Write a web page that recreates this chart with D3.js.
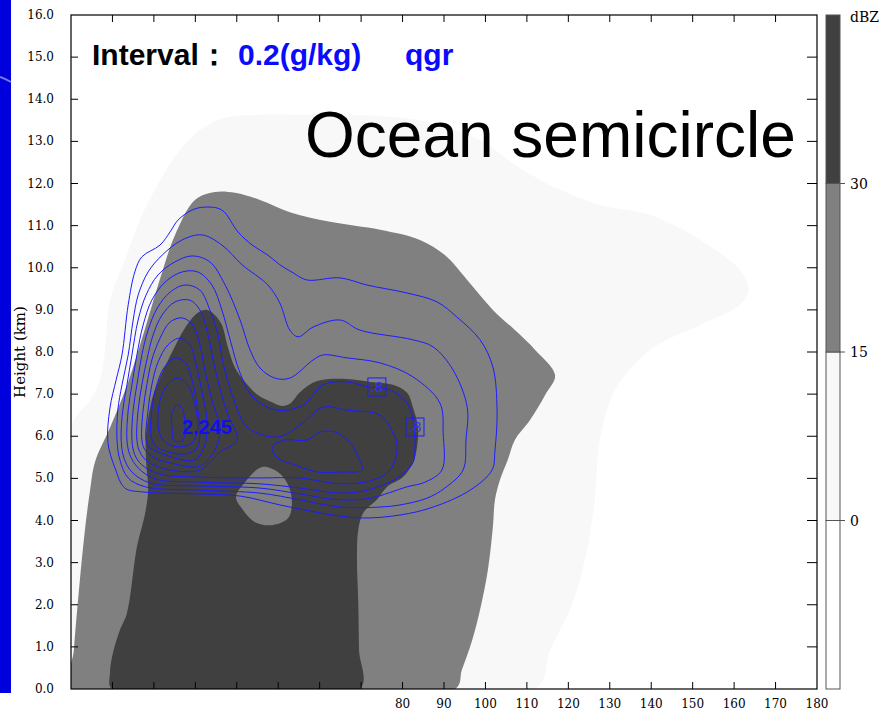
<!DOCTYPE html>
<html>
<head>
<meta charset="utf-8">
<script src="https://cdn.jsdelivr.net/npm/d3@7"></script>
<style>
  body { margin: 0; background: #fff; }
  svg { display: block; }
</style>
</head>
<body>
<div id="chart"></div>
<script>
// ---- data: distance (km) , height (km) ----
const xLabels = [80, 90, 100, 110, 120, 130, 140, 150, 160, 170, 180];
const yLabels = [0,1,2,3,4,5,6,7,8,9,10,11,12,13,14,15,16];
const dbzLevels = [0, 15, 30];

// reflectivity outlines
const refl0 = [[0,0],[0,6.22],[4.6,6.86],[7.0,7.34],[8.2,8.05],[9.4,9.23],[13.0,10.18],[16.6,11.13],[21.5,12.08],
  [26.3,12.80],[31.1,13.27],[37.2,13.56],[45.6,13.63],[55.3,13.63],[64.9,13.63],[79.4,13.56],[89.0,13.39],
  [98.7,13.03],[108.3,12.37],[118.0,11.85],[127.6,11.49],[139.7,11.25],[151.8,10.66],[161.4,9.95],[163.4,9.47],
  [161.4,9.12],[151.8,8.64],[139.7,8.05],[131.3,7.10],[127.6,5.91],[126.4,4.49],[124.0,3.06],[120.4,1.88],
  [115.6,0.93],[112.0,0]];
const refl15 = [[0.2,0],[0.7,0.93],[1.7,2.11],[3.1,3.54],[4.6,4.72],[5.8,5.39],[9.4,6.20],[13.8,7.29],[17.9,8.57],
  [22.0,9.90],[25.1,10.78],[29.9,11.61],[34.7,11.80],[39.6,11.78],[45.6,11.61],[52.8,11.32],[62.5,11.09],
  [74.6,10.90],[84.2,10.66],[90.2,10.30],[95.6,9.71],[101.8,9.00],[107.1,8.52],[112.0,8.05],[116.8,7.45],
  [114.4,6.98],[110.8,6.39],[107.1,5.91],[105.4,5.44],[103.5,4.96],[102.3,4.49],[101.8,3.85],[100.6,2.83],
  [98.7,1.88],[96.8,1.16],[94.3,0.45],[92.7,0]];
const refl30 = [[9.9,0],[9.4,0.38],[10.1,0.85],[11.8,1.40],[13.5,1.80],[15.9,3.37],[17.9,4.18],[18.6,4.72],
  [18.1,5.44],[18.1,6.03],[19.5,6.86],[21.0,7.29],[24.4,8.00],[27.5,8.57],[30.6,8.93],[32.8,9.00],[34.7,8.88],
  [36.4,8.64],[37.9,8.10],[39.6,7.62],[42.0,7.29],[45.1,6.98],[48.5,6.81],[50.9,6.72],[52.8,6.77],[55.3,7.05],
  [59.4,7.31],[66.6,7.36],[72.2,7.29],[77.7,7.22],[81.1,7.03],[82.5,6.69],[83.7,6.22],[83.5,5.75],[82.5,5.37],
  [80.1,5.03],[76.3,4.80],[73.8,4.49],[70.5,4.18],[69.3,3.77],[69.0,3.06],[69.3,2.11],[69.5,0.93],[69.7,0]];
const refl30Hole = [[39.8,4.56],[42.0,4.91],[46.1,5.27],[49.9,5.15],[52.4,4.84],[53.3,4.44],[52.4,4.06],
  [48.5,3.89],[44.4,3.96],[41.5,4.25]];

// qgr contours (interval 0.2 g/kg)
const qgr02 = [[8.9,5.86],[9.4,6.67],[10.9,7.34],[12.3,7.93],[13.8,9.12],[15.4,9.90],[17.1,10.26],[21.5,10.54],
  [23.9,10.85],[25.8,11.13],[29.2,11.37],[32.3,11.44],[36.4,11.37],[40.3,10.85],[43.7,10.54],[47.5,10.30],
  [50.4,10.07],[53.6,9.88],[56.9,9.71],[64.9,9.76],[71.4,9.59],[81.1,9.40],[88.3,9.19],[93.1,8.83],[98.7,8.29],
  [101.8,7.64],[102.8,6.62],[102.3,5.67],[101.6,5.20],[96.3,4.72],[87.4,4.32],[79.4,4.13],[69.7,4.06],
  [60.1,4.18],[50.4,4.37],[40.8,4.58],[31.1,4.63],[17.1,4.68],[13.0,4.77],[10.6,5.25]];
const qgr04 = [[11.1,5.91],[11.3,6.62],[12.3,7.22],[13.8,7.93],[15.0,8.76],[16.2,9.35],[18.6,9.90],[22.0,10.30],
  [26.8,10.66],[31.6,10.78],[36.4,10.54],[41.3,10.07],[47.5,9.59],[50.4,9.16],[52.8,8.52],[54.8,8.36],
  [58.4,8.59],[64.9,8.76],[69.7,8.52],[82.5,8.29],[87.4,8.12],[92.2,7.57],[95.6,6.69],[95.3,5.91],[94.6,5.20],
  [90.2,4.77],[85.9,4.53],[79.4,4.37],[74.6,4.32],[64.9,4.32],[55.3,4.49],[45.6,4.65],[31.1,4.72],[17.9,4.80],
  [13.8,5.01],[11.8,5.44]];
const qgr06 = [[12.1,5.91],[12.5,6.62],[13.5,7.22],[14.7,7.93],[16.2,8.76],[18.1,9.35],[21.0,9.83],[25.1,10.14],
  [29.2,10.28],[33.5,10.14],[37.2,9.59],[40.8,8.76],[43.2,8.05],[45.6,7.62],[49.2,7.38],[52.8,7.38],[58.4,7.81],
  [60.8,7.93],[66.6,7.86],[74.6,7.74],[82.5,7.41],[89.0,6.79],[89.8,6.08],[89.5,5.20],[85.4,4.91],[81.1,4.80],
  [72.2,4.53],[64.9,4.49],[55.3,4.63],[45.6,4.77],[31.1,4.82],[19.1,4.89],[14.7,5.15],[12.8,5.48]];
const qgr08 = [[13.5,5.91],[13.8,6.62],[14.7,7.22],[15.9,7.93],[17.4,8.64],[19.5,9.23],[22.7,9.66],[26.8,9.90],
  [30.6,9.90],[34.0,9.59],[36.4,9.00],[38.4,8.29],[40.8,7.50],[43.9,6.93],[49.7,6.62],[56.0,6.74],[60.8,7.22],
  [66.6,7.29],[71.7,7.17],[77.0,7.10],[81.1,6.79],[82.5,6.39],[83.0,5.75],[82.5,5.37],[78.7,5.01],[71.4,4.72],
  [64.9,4.65],[55.3,4.77],[45.6,4.87],[31.1,4.91],[20.3,4.99],[16.2,5.25],[14.2,5.56]];
const qgr10 = [[14.7,5.91],[15.0,6.62],[15.9,7.22],[17.1,7.93],[18.6,8.52],[20.8,9.04],[23.9,9.42],[27.5,9.59],
  [31.1,9.47],[33.5,9.00],[35.5,8.40],[36.7,7.74],[39.1,6.93],[42.5,6.22],[49.7,5.98],[55.3,6.27],[60.8,6.69],
  [66.6,6.62],[74.6,6.50],[77.7,6.08],[78.7,5.75],[77.0,5.20],[72.9,4.96],[64.9,4.87],[55.3,5.01],[45.6,5.01],
  [31.1,5.03],[21.5,5.10],[17.1,5.32],[15.4,5.56]];
const qgr12 = [[15.9,5.91],[16.2,6.62],[17.1,7.22],[18.3,7.81],[19.8,8.40],[22.0,8.88],[25.1,9.19],[28.7,9.23],
  [31.1,9.00],[32.8,8.52],[34.3,7.81],[36.0,7.10],[37.9,6.50],[40.1,5.91],[36.0,5.63],[31.1,5.20],[23.9,5.20],
  [18.6,5.39],[16.6,5.63]];
const qgr12b = [[48.5,5.75],[51.6,5.91],[56.9,5.91],[60.1,6.10],[63.7,6.10],[67.3,5.86],[69.3,5.51],[70.2,5.20],
  [64.9,5.15],[59.4,5.15],[54.1,5.32],[49.9,5.48]];
const qgr14 = [[17.1,5.91],[17.4,6.62],[18.3,7.22],[19.5,7.81],[21.5,8.33],[23.9,8.71],[26.8,8.81],[29.4,8.64],
  [31.1,8.17],[32.3,7.57],[34.0,6.86],[36.0,6.15],[34.7,5.67],[31.1,5.29],[25.1,5.34],[20.3,5.48],[17.9,5.67]];
const qgr16 = [[18.1,5.91],[18.6,6.62],[19.5,7.22],[21.0,7.76],[23.4,8.17],[26.3,8.33],[28.7,8.17],[30.2,7.69],
  [31.6,7.05],[32.8,6.39],[32.3,5.79],[29.9,5.44],[25.1,5.48],[21.0,5.63],[18.8,5.75]];
const qgr18 = [[19.3,6.03],[19.5,6.62],[20.5,7.15],[22.4,7.62],[25.1,7.86],[27.5,7.76],[29.2,7.34],[30.4,6.74],
  [31.1,6.15],[30.4,5.72],[27.5,5.58],[23.4,5.63],[20.3,5.77]];
const qgr20 = [[21.0,6.27],[21.5,6.86],[23.2,7.22],[25.6,7.38],[28.2,7.22],[29.9,6.74],[30.6,6.20],[29.2,5.84],
  [25.6,5.75],[22.2,5.91]];
const qgr22 = [[24.4,6.15],[24.4,6.58],[25.8,6.74],[27.0,6.62],[27.0,5.91],[24.9,5.89]];
const qgrLines = [qgr02, qgr04, qgr06, qgr08, qgr10, qgr12, qgr12b, qgr14, qgr16, qgr18, qgr20, qgr22];

const maxLabel = {text: "2.245", x: 32.8, h: 6.22};
const lineLabels = [{text: ".8", x: 73.8, h: 7.17}, {text: ".8", x: 83.0, h: 6.22}];

// ---- drawing ----
const W = 883, H = 712;
const svg = d3.select("#chart").append("svg").attr("width", W).attr("height", H);

const x = d3.scaleLinear().domain([0, 180]).range([71, 817]);
const y = d3.scaleLinear().domain([0, 16]).range([689, 15]);

// slide side strip
svg.append("rect").attr("x", 0).attr("y", 0).attr("width", 11).attr("height", 693).attr("fill", "#0000dc");
svg.append("path").attr("d", "M0,77 Q6,79 11,82").attr("fill", "none")
  .attr("stroke", "#7a7af2").attr("stroke-width", 2);

svg.append("clipPath").attr("id", "plotClip").append("rect")
  .attr("x", x(0)).attr("y", y(16)).attr("width", x(180) - x(0)).attr("height", y(0) - y(16));

const plot = svg.append("g").attr("clip-path", "url(#plotClip)");
plot.append("rect").attr("x", x(0)).attr("y", y(16)).attr("width", x(180) - x(0))
  .attr("height", y(0) - y(16)).attr("fill", "#ffffff");

const area = d3.line().x(d => x(d[0])).y(d => y(d[1])).curve(d3.curveCatmullRomClosed.alpha(0.5));

plot.append("path").attr("d", area(refl0)).attr("fill", "#f8f8f8");
plot.append("path").attr("d", area(refl15)).attr("fill", "#808080");
plot.append("path").attr("d", area(refl30) + area(refl30Hole))
  .attr("fill", "#404040").attr("fill-rule", "evenodd");

plot.selectAll(".qgr").data(qgrLines).enter().append("path")
  .attr("class", "qgr")
  .attr("d", d => area(d))
  .attr("fill", "none").attr("stroke", "#1c1cff").attr("stroke-width", 1);

plot.append("text").attr("x", x(maxLabel.x)).attr("y", y(maxLabel.h) + 7)
  .attr("text-anchor", "middle").attr("fill", "#1010ee")
  .style("font-family", "'Liberation Sans', Arial, sans-serif").style("font-weight", "bold")
  .style("font-size", "20px").text(maxLabel.text);

const lbl = plot.selectAll(".lbl").data(lineLabels).enter().append("g").attr("class", "lbl");
lbl.append("rect").attr("x", d => x(d.x) - 9).attr("y", d => y(d.h) - 9).attr("width", 18).attr("height", 18)
  .attr("fill", "none").attr("stroke", "#1c1cff").attr("stroke-width", 1);
lbl.append("text").attr("x", d => x(d.x)).attr("y", d => y(d.h) + 5).attr("text-anchor", "middle")
  .attr("fill", "#3030ff").style("font-family", "'Liberation Sans', Arial, sans-serif")
  .style("font-size", "15px").text(d => d.text);

// frame and ticks
svg.append("rect").attr("x", x(0)).attr("y", y(16)).attr("width", x(180) - x(0))
  .attr("height", y(0) - y(16)).attr("fill", "none").attr("stroke", "#000").attr("stroke-width", 1.2);

const tickX = d3.range(10, 180, 10);
const tickY = d3.range(1, 16, 1);
const tk = svg.append("g").attr("stroke", "#000").attr("stroke-width", 1);
tickX.forEach(v => {
  tk.append("line").attr("x1", x(v)).attr("x2", x(v)).attr("y1", y(0)).attr("y2", y(0) - 7);
  tk.append("line").attr("x1", x(v)).attr("x2", x(v)).attr("y1", y(16)).attr("y2", y(16) + 7);
});
tickY.forEach(v => {
  tk.append("line").attr("x1", x(0)).attr("x2", x(0) + 7).attr("y1", y(v)).attr("y2", y(v));
  tk.append("line").attr("x1", x(180)).attr("x2", x(180) - 10).attr("y1", y(v)).attr("y2", y(v));
});

const serif = "'DejaVu Serif', serif";
svg.selectAll(".ylab").data(yLabels).enter().append("text")
  .attr("x", 54).attr("y", d => y(d) + 4).attr("text-anchor", "end")
  .style("font-family", serif).style("font-size", "12px").attr("fill", "#000")
  .text(d => d.toFixed(1));
svg.selectAll(".xlab").data(xLabels).enter().append("text")
  .attr("x", d => x(d)).attr("y", 708).attr("text-anchor", "middle")
  .style("font-family", serif).style("font-size", "12px").attr("fill", "#000")
  .text(d => d);
svg.append("text").attr("transform", `translate(25,${y(8)}) rotate(-90)`)
  .attr("text-anchor", "middle").style("font-family", serif).style("font-size", "15px")
  .text("Height (km)");

// colour bar
const cb = d3.scaleLinear().domain([-15, 45]).range([689, 15]);
const cbBands = [[-15, 0, "#ffffff"], [0, 15, "#f8f8f8"], [15, 30, "#808080"], [30, 45, "#404040"]];
svg.selectAll(".cb").data(cbBands).enter().append("rect")
  .attr("x", 826).attr("width", 14)
  .attr("y", d => cb(d[1])).attr("height", d => cb(d[0]) - cb(d[1]))
  .attr("fill", d => d[2]).attr("stroke", "#555").attr("stroke-width", 1);
dbzLevels.forEach(v => {
  svg.append("line").attr("x1", 840).attr("x2", 845).attr("y1", cb(v)).attr("y2", cb(v)).attr("stroke", "#555");
});
svg.selectAll(".cbl").data(dbzLevels).enter().append("text")
  .attr("x", 850).attr("y", d => cb(d) + 5)
  .style("font-family", serif).style("font-size", "14px").text(d => d);
svg.append("text").attr("x", 850).attr("y", 22)
  .style("font-family", serif).style("font-size", "14px").text("dBZ");

// titles
const sans = "'Liberation Sans', Arial, sans-serif";
svg.append("text").attr("x", 92).attr("y", 65).style("font-family", sans)
  .style("font-weight", "bold").style("font-size", "30px").attr("fill", "#000").text("Interval：");
svg.append("text").attr("x", 238).attr("y", 65).style("font-family", sans)
  .style("font-weight", "bold").style("font-size", "30px").attr("fill", "#0a0aff").text("0.2(g/kg)");
svg.append("text").attr("x", 405).attr("y", 65).style("font-family", sans)
  .style("font-weight", "bold").style("font-size", "30px").attr("fill", "#0a0aff").text("qgr");
svg.append("text").attr("x", 305).attr("y", 157).style("font-family", sans)
  .style("font-size", "64px").attr("fill", "#000").text("Ocean semicircle");
</script>
</body>
</html>
